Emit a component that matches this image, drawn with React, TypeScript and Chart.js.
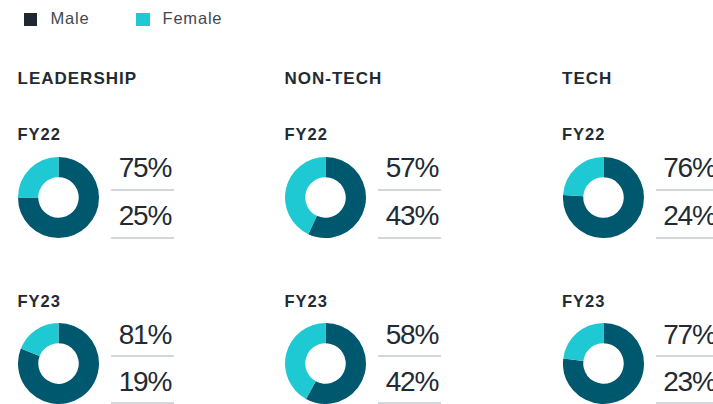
import React, { useEffect, useRef } from "react";
import { Chart, registerables } from "chart.js";

Chart.register(...registerables);

const seriesLabels = ["Male", "Female"];
const groups = ["LEADERSHIP", "NON-TECH", "TECH"];
const years = ["FY22", "FY23"];
const maleFY22 = [75, 57, 76];
const femaleFY22 = [25, 43, 24];
const maleFY23 = [81, 58, 77];
const femaleFY23 = [19, 42, 23];

const MALE_COLOR = "#00586f";
const FEMALE_COLOR = "#1ec9d4";
const LEGEND_MALE = "#1f2731";
const TEXT = "#222a33";
const LINE = "#d3d7da";

const FONT = "'Liberation Sans', Arial, sans-serif";

const colX = [18, 285, 562.5];
const rowDonutTop = [157, 322.5];
const rowLabelBase = [140, 306.7];
const numBase = [
  [178, 226],
  [345, 391.7],
];
const lineY = [
  [189, 236.7],
  [355, 402],
];

function Donut({ male, female, left, top }: { male: number; female: number; left: number; top: number }) {
  const ref = useRef<HTMLCanvasElement | null>(null);
  useEffect(() => {
    if (!ref.current) return;
    const chart = new Chart(ref.current, {
      type: "doughnut",
      data: {
        labels: seriesLabels,
        datasets: [
          {
            data: [male, female],
            backgroundColor: [MALE_COLOR, FEMALE_COLOR],
            borderWidth: 0,
          },
        ],
      },
      options: {
        responsive: false,
        animation: false,
        cutout: "50%",
        events: [],
        layout: { padding: 0 },
        plugins: { legend: { display: false }, tooltip: { enabled: false } },
      },
    });
    return () => chart.destroy();
  }, [male, female]);
  return (
    <canvas
      ref={ref}
      width={81}
      height={81}
      style={{ position: "absolute", left, top, width: 81, height: 81 }}
    />
  );
}

function Txt({
  x,
  base,
  size,
  children,
  weight = 400,
  color = TEXT,
  ls = 0,
  align = "left",
}: any) {
  const top = base - size * 0.8465;
  const style: React.CSSProperties = {
    position: "absolute",
    top,
    fontSize: size,
    lineHeight: size + "px",
    fontFamily: FONT,
    fontWeight: weight,
    color,
    letterSpacing: ls,
    whiteSpace: "nowrap",
  };
  if (align === "right") {
    style.right = 713 - x;
  } else {
    style.left = x;
  }
  return <div style={style}>{children}</div>;
}

export default function App() {
  const males = [maleFY22, maleFY23];
  const females = [femaleFY22, femaleFY23];
  return (
    <div
      style={{
        position: "absolute",
        left: 0,
        top: 0,
        width: 713,
        height: 404,
        overflow: "hidden",
        background: "#ffffff",
      }}
    >
      {/* legend */}
      <div style={{ position: "absolute", left: 24, top: 12.5, width: 13, height: 13, background: LEGEND_MALE }} />
      <Txt x={50.5} base={24} size={16.5} color="#3f4852" ls={0.8}>
        {seriesLabels[0]}
      </Txt>
      <div style={{ position: "absolute", left: 136, top: 12.5, width: 13.5, height: 13, background: FEMALE_COLOR }} />
      <Txt x={162.5} base={24} size={16.5} color="#3f4852" ls={0.8}>
        {seriesLabels[1]}
      </Txt>

      {groups.map((g, gi) => (
        <React.Fragment key={g}>
          <Txt x={colX[gi] - 0.5} base={84.3} size={17} weight={700} ls={1}>
            {g}
          </Txt>
          {years.map((y, yi) => (
            <React.Fragment key={y}>
              <Txt x={colX[gi] - 0.5} base={rowLabelBase[yi]} size={16.5} weight={700} ls={1}>
                {y}
              </Txt>
              <Donut male={males[yi][gi]} female={females[yi][gi]} left={colX[gi]} top={rowDonutTop[yi]} />
              <Txt x={colX[gi] + 153} base={numBase[yi][0]} size={28} ls={-1.3} align="right">
                {males[yi][gi] + "%"}
              </Txt>
              <div
                style={{
                  position: "absolute",
                  left: colX[gi] + 93,
                  top: lineY[yi][0],
                  width: 63,
                  height: 2,
                  background: LINE,
                }}
              />
              <Txt x={colX[gi] + 153} base={numBase[yi][1]} size={28} ls={-1.3} align="right">
                {females[yi][gi] + "%"}
              </Txt>
              <div
                style={{
                  position: "absolute",
                  left: colX[gi] + 93,
                  top: lineY[yi][1],
                  width: 63,
                  height: 2,
                  background: LINE,
                }}
              />
            </React.Fragment>
          ))}
        </React.Fragment>
      ))}
    </div>
  );
}
